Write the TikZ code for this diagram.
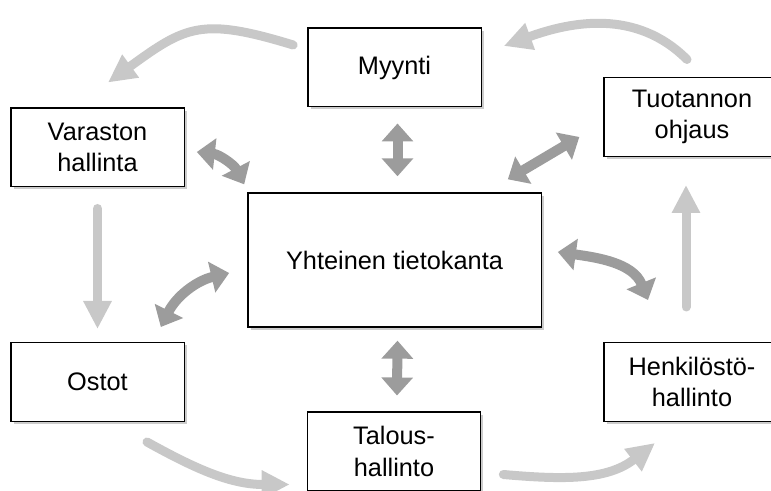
\documentclass[tikz,border=0pt]{standalone}
\usepackage{fontspec}
\setmainfont{Liberation Sans}
\usetikzlibrary{arrows.meta,calc,shadows}
\definecolor{cFlow}{HTML}{C8C8C8}
\definecolor{cLink}{HTML}{9C9C9C}

\begin{document}
\begin{tikzpicture}[
    x=0.75pt, y=0.75pt,
    blk/.style={rectangle, draw, line width=1pt, fill=white, minimum width=130pt, minimum height=59pt, font=\fontsize{19}{23.5}\selectfont, align=center, drop shadow={shadow xshift=2pt, shadow yshift=-2pt, opacity=0.4}},
    flow/.style={-{Triangle[width=20pt, length=21pt]}, line width=6.75pt, line cap=round, cFlow},
    link/.style={{Triangle[width=23pt, length=13.5pt]}-{Triangle[width=23pt, length=13.5pt]}, line width=7.5pt, cLink}
]
\useasboundingbox (0,0) rectangle (771,491);

\node[blk] (myynti) at (394.5,423.5) {Myynti};
\node[blk] (varasto) at (97.5,343.5) {Varaston\\hallinta};
\node[blk, minimum width=132pt] (tuotanto) at (692,374) {Tuotannon\\ohjaus};
\node[blk, minimum width=220pt, minimum height=100.5pt] (yhteinen) at (394.5,231) {Yhteinen tietokanta};
\node[blk] (ostot) at (97.5,109) {Ostot};
\node[blk] (talous) at (394,39.5) {Talous-\\hallinto};
\node[blk, minimum width=132pt] (henkilo) at (692,109) {Henkilöstö-\\hallinto};

% outer cycle
\draw[flow] ($(myynti.west)+(-14,22.5)$) to[out=163, in=36, looseness=1.3] ($(varasto.north)+(10.5,25)$);
\draw[flow] ($(tuotanto.north)+(-5,17.5)$) to[out=135, in=20] ($(myynti.east)+(22,21.5)$);
\draw[flow] ($(varasto.south)+(0,-21)$) -- ($(ostot.north)+(0,13)$);
\draw[flow] ($(ostot.south)+(49.5,-20)$) to[out=-29, in=180] ($(talous.west)+(-17,-33)$);
\draw[flow] ($(talous.east)+(22,-23)$) to[out=-5, in=218] ($(henkilo.south)+(-37,-21)$);
\draw[flow] ($(henkilo.north)+(-6,35)$) -- ($(tuotanto.south)+(-6,-28)$);

% links to the database
\draw[link] ($(myynti.south)+(3,-16)$) -- ($(yhteinen.north)+(3,16)$);
\draw[link] ($(talous.north)+(3,16)$) -- ($(yhteinen.south)+(3,-13)$);
\draw[link] ($(varasto.east)+(12,-4.5)$) to[bend left=28] ($(yhteinen.north west)+(-3,8)$);
\draw[link] ($(tuotanto.west)+(-24,-20)$) -- ($(yhteinen.north east)+(-34,13)$);
\draw[link] ($(ostot.north east)+(-24,15)$) to[bend left=25] ($(yhteinen.west)+(-18,-13)$);
\draw[link] ($(yhteinen.east)+(16,8)$) to[out=-8, in=112] ($(henkilo.north)+(-44,42)$);
\end{tikzpicture}
\end{document}
